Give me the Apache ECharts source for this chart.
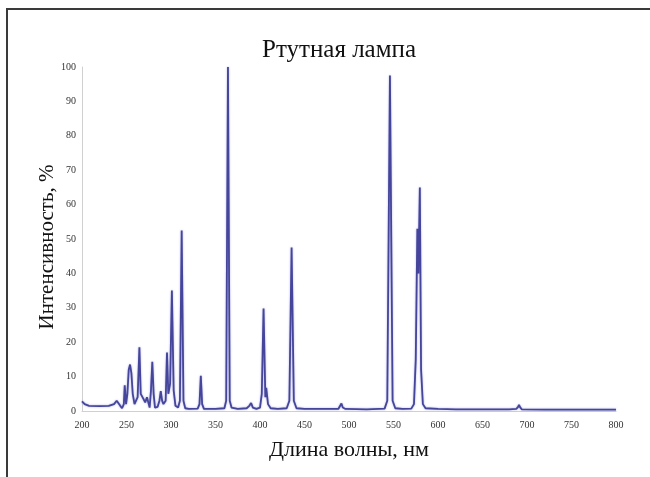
<!DOCTYPE html>
<html>
<head>
<meta charset="utf-8">
<script src="https://cdn.jsdelivr.net/npm/echarts@6/dist/echarts.min.js"></script>
<style>html,body{margin:0;padding:0;background:#fff}#c{width:650px;height:477px}</style>
</head>
<body>
<div id="c"></div>
<script>
// Wavelength (nm) sampled along the spectrum
var wavelengths = [200,203,208,220,230,236,239,241,243,245,247,248,249.5,251,252.5,254,255.5,257,259,261,262.5,264.5,266,267.5,269,271,273,275,276,277.5,279,280.5,282,285,287,288.5,290,291.5,293,294,295.5,297,299,301,303,305,308,310,312,314,316,320,330,332,333.5,335,337,350,360,362,364,366,368,375,385,388,390,392,396,400,402,404,406,407,409,412,420,430,433,435.5,438,441,450,470,488,490,491.5,493,496,520,540,543,546,549,552,560,570,573,575,576.8,578,579.6,581,583,586,600,620,650,680,688,690,691,692,694,720,760,800];
// Relative intensity (%)
var intensity = [2.8,2.0,1.5,1.4,1.5,2.0,3.0,3.2,1.5,0.8,2.0,7.5,2.0,5.0,12.0,13.5,11.0,5.0,2.0,1.5,4.0,18.5,5.0,5.5,3.5,2.5,4.0,2.0,1.0,6.0,14.3,5.0,1.0,1.2,3.0,5.8,3.0,2.0,1.5,3.0,17.0,5.0,8.0,35.0,6.0,1.5,1.0,3.0,52.5,3.0,0.8,0.6,0.7,2.0,10.2,2.0,0.6,0.6,0.8,3.0,100,3.0,1.0,0.6,0.8,1.5,2.3,1.0,0.6,1.0,5.0,29.8,4.0,6.7,2.0,0.8,0.6,0.8,3.0,47.5,3.0,0.8,0.6,0.6,0.6,1.0,2.2,1.0,0.6,0.5,0.7,3.0,97.5,3.0,0.8,0.6,0.7,2.0,15.0,53.0,40.0,65.0,12.0,2.0,0.8,0.6,0.5,0.5,0.5,0.6,1.2,1.8,1.2,0.5,0.4,0.4,0.4];
var titleText = 'Ртутная лампа';
var xName = 'Длина волны, нм';
var yName = 'Интенсивность, %';

var seriesData = wavelengths.map(function (w, i) { return [w, intensity[i]]; });
var serif = '"Liberation Serif", "Times New Roman", serif';

var chart = echarts.init(document.getElementById('c'), null, {renderer: 'canvas'});
chart.setOption({
  animation: false,
  backgroundColor: '#fff',
  title: {
    text: titleText, left: 257, top: 33,
    textStyle: {fontFamily: serif, fontSize: 25, fontWeight: 'normal', color: '#111'}
  },
  grid: {left: 82, right: 34, top: 67, bottom: 66},
  xAxis: {
    type: 'value', min: 200, max: 800, interval: 50,
    name: xName, nameLocation: 'middle', nameGap: 28,
    nameTextStyle: {fontFamily: serif, fontSize: 22, color: '#111'},
    axisLine: {lineStyle: {color: '#d0d0d0', width: 1}},
    axisTick: {show: false}, splitLine: {show: false},
    axisLabel: {fontFamily: serif, fontSize: 10, color: '#333', margin: 9}
  },
  yAxis: {
    type: 'value', min: 0, max: 100, interval: 10,
    name: yName, nameLocation: 'middle', nameGap: 24, nameRotate: 90,
    nameMoveOverlap: false,
    nameTextStyle: {fontFamily: serif, fontSize: 21, color: '#111', padding: [0, 16, 0, 0]},
    axisLine: {show: true, lineStyle: {color: '#d0d0d0', width: 1}},
    axisTick: {show: false}, splitLine: {show: false},
    axisLabel: {fontFamily: serif, fontSize: 10, color: '#333', margin: 6}
  },
  series: [{
    type: 'line', data: seriesData, showSymbol: false, smooth: false,
    lineStyle: {color: '#45459c', width: 1.8, shadowColor: 'rgba(130,130,210,0.7)', shadowBlur: 2}
  }],
  graphic: [{
    type: 'polyline',
    shape: {points: [[7, 477], [7, 9], [650, 9]]},
    style: {stroke: '#3a3a3a', lineWidth: 2, fill: null}
  }]
});
</script>
</body>
</html>
